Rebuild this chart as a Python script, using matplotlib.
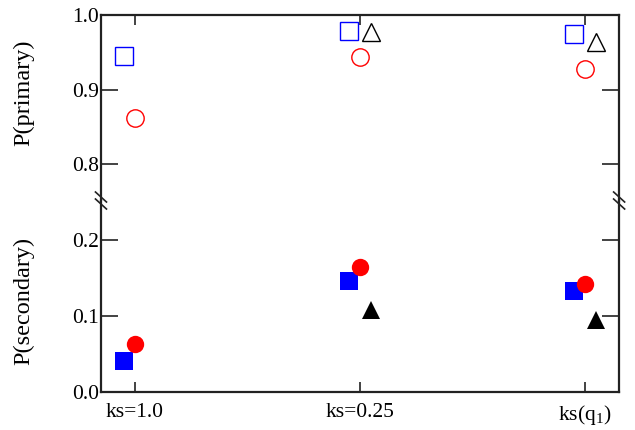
import matplotlib
matplotlib.use("Agg")
import matplotlib.pyplot as plt
import numpy as np

plt.rcParams['font.family'] = ['Liberation Serif', 'DejaVu Serif']
plt.rcParams['mathtext.fontset'] = 'custom'
plt.rcParams['mathtext.rm'] = 'Liberation Serif'
plt.rcParams['mathtext.it'] = 'Liberation Serif:italic'

categories = ['ks=1.0', 'ks=0.25', 'ks(q$_1$)']

# primary (open markers)
prim_square = [0.945, 0.978, 0.974]
prim_circle = [0.862, 0.944, 0.928]
prim_triangle = [np.nan, 0.977, 0.964]

# secondary (filled markers)
sec_square = [0.040, 0.146, 0.132]
sec_circle = [0.063, 0.164, 0.142]
sec_triangle = [np.nan, 0.108, 0.094]

x = np.arange(len(categories))
off = 0.049

fig = plt.figure(figsize=(6.35, 4.3), dpi=100)
ax_top = fig.add_axes([0.159, 0.5315, 0.816, 0.4335])
ax_bot = fig.add_axes([0.159, 0.089, 0.816, 0.4425])

ms = 12.5
# top panel
ax_top.plot(x - off, prim_square, 's', ms=ms, mfc='none', mec='blue', mew=1)
ax_top.plot(x, prim_circle, 'o', ms=ms, mfc='none', mec='red', mew=1)
ax_top.plot(x + off, prim_triangle, '^', ms=ms, mfc='none', mec='black', mew=1)
# bottom panel
ax_bot.plot(x - off, sec_square, 's', ms=ms, mfc='blue', mec='blue', mew=0)
ax_bot.plot(x, sec_circle, 'o', ms=ms, mfc='red', mec='red', mew=0)
ax_bot.plot(x + off, sec_triangle, '^', ms=ms, mfc='black', mec='black', mew=0)

ax_top.set_ylim(0.75, 1.0)
ax_bot.set_ylim(0.0, 0.25)
for ax in (ax_top, ax_bot):
    ax.set_xlim(-0.151, 2.151)
    ax.set_xticks(x)
    for s in ax.spines.values():
        s.set_linewidth(1.6)
        s.set_color('#222222')
    ax.tick_params(axis='y', direction='in', length=12, width=1.2, left=True,
                   right=True, labelsize=15.5, pad=1.5, color='#222222')
    ax.tick_params(axis='x', direction='in', length=7.5, width=1.2,
                   labelsize=15.5, pad=8, color='#222222')

ax_top.set_yticks([0.8, 0.9, 1.0])
ax_bot.set_yticks([0.0, 0.1, 0.2])
ax_top.spines['bottom'].set_visible(False)
ax_bot.spines['top'].set_visible(False)
ax_top.tick_params(axis='x', bottom=False, top=True, labelbottom=False)
ax_bot.tick_params(axis='x', bottom=True, top=False)
ax_bot.set_xticklabels(categories)

ax_top.set_ylabel('P(primary)', fontsize=17.5)
ax_bot.set_ylabel('P(secondary)', fontsize=17.5)
ax_top.yaxis.set_label_coords(-0.128, 0.585)
ax_bot.yaxis.set_label_coords(-0.128, 0.479)

# break marks
W, H = fig.get_size_inches() * fig.dpi
ybrk = 1 - 200.5 / H
for xs in (0.159, 0.975):
    for dy in (-3.5, 3.5):
        yc = ybrk - dy / H
        fig.add_artist(plt.Line2D([xs - 5.5 / W, xs + 5.5 / W],
                                  [yc + 5 / H, yc - 5 / H],
                                  color='#222222', lw=1.2))

fig.savefig('out.png', dpi=100)
